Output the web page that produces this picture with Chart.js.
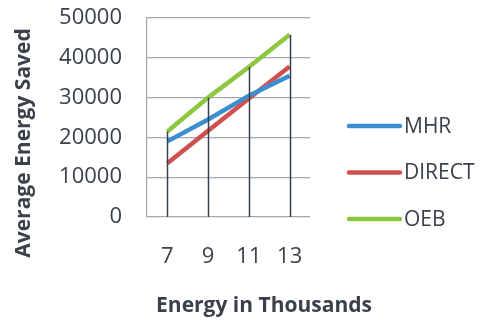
<!DOCTYPE html>
<html>
<head>
<meta charset="utf-8">
<script src="https://cdn.jsdelivr.net/npm/chart.js@4/dist/chart.umd.min.js"></script>
<style>
  html, body { margin: 0; padding: 0; background: #fff; }
  #wrap { width: 480px; height: 320px; }
</style>
</head>
<body>
<div id="wrap"><canvas id="chart"></canvas></div>
<script>
const categories = ['7', '9', '11', '13'];
const mhr = [19000, 24500, 30500, 35500];
const direct = [13500, 21700, 29800, 37800];
const oeb = [21500, 30000, 37700, 45800];

const FONT = "'Open Sans', sans-serif";
const TEXT = '#3a414b';

// Excel style drop lines: from the highest point of each category down to the axis
const dropLines = {
  id: 'dropLines',
  afterDatasetsDraw(chart) {
    const { ctx, scales: { x, y } } = chart;
    ctx.save();
    ctx.strokeStyle = '#36404a';
    ctx.lineWidth = 1.5;
    categories.forEach((_, i) => {
      const top = Math.max(...chart.data.datasets.map(d => d.data[i]));
      const px = Math.round(x.getPixelForValue(i)) + 0.5;
      ctx.beginPath();
      ctx.moveTo(px, y.getPixelForValue(top));
      ctx.lineTo(px, y.getPixelForValue(0));
      ctx.stroke();
    });
    ctx.restore();
  },
};

// axis titles and the legend on the right, placed where the original has them
const decorations = {
  id: 'decorations',
  afterDraw(chart) {
    const ctx = chart.ctx;
    ctx.save();
    ctx.fillStyle = TEXT;
    ctx.font = `bold 21px ${FONT}`;
    ctx.textAlign = 'center';
    ctx.textBaseline = 'middle';
    ctx.fillText('Energy in Thousands', 264, 306);
    ctx.save();
    ctx.translate(24, 143);
    ctx.rotate(-Math.PI / 2);
    ctx.fillText('Average Energy Saved', 0, 0);
    ctx.restore();

    ctx.font = `21px ${FONT}`;
    ctx.textAlign = 'left';
    ctx.lineCap = 'round';
    ctx.lineWidth = 4.5;
    chart.data.datasets.forEach((d, i) => {
      const yy = 126 + i * 46.5;
      ctx.strokeStyle = d.borderColor;
      ctx.beginPath();
      ctx.moveTo(349, yy);
      ctx.lineTo(400, yy);
      ctx.stroke();
      ctx.fillText(d.label, 404, yy + 1);
    });
    ctx.restore();
  },
};

const ctx = document.getElementById('chart').getContext('2d');
new Chart(ctx, {
  type: 'line',
  data: {
    labels: categories,
    datasets: [
      { label: 'MHR', data: mhr, borderColor: '#3d8ecf', backgroundColor: '#3d8ecf' },
      { label: 'DIRECT', data: direct, borderColor: '#d0504f', backgroundColor: '#d0504f' },
      { label: 'OEB', data: oeb, borderColor: '#8dc63f', backgroundColor: '#8dc63f' },
    ].map(d => ({ ...d, borderWidth: 4.5, pointRadius: 0, tension: 0 })),
  },
  options: {
    responsive: true,
    maintainAspectRatio: false,
    animation: false,
    layout: { padding: { top: 18, left: 0, bottom: 0, right: 170 } },
    plugins: {
      legend: { display: false },
      tooltip: { enabled: false },
    },
    scales: {
      x: {
        offset: true,
        grid: { display: false, drawTicks: false },
        border: { display: false },
        ticks: { color: TEXT, font: { family: FONT, size: 22 }, padding: 27 },
        afterFit: (s) => { s.height = 103; },
      },
      y: {
        min: 0,
        max: 50000,
        grid: { color: '#a3a8b0', lineWidth: 1.2, drawTicks: false },
        border: { color: '#a3a8b0', width: 1.2 },
        ticks: {
          stepSize: 10000,
          color: TEXT,
          font: { family: FONT, size: 22 },
          padding: 25,
          callback: (v) => String(v),
        },
        afterFit: (s) => {
          s.width = 147;
          s.paddingTop = 0;
          s.paddingBottom = 0;
        },
      },
    },
  },
  plugins: [dropLines, decorations],
});
</script>
</body>
</html>
